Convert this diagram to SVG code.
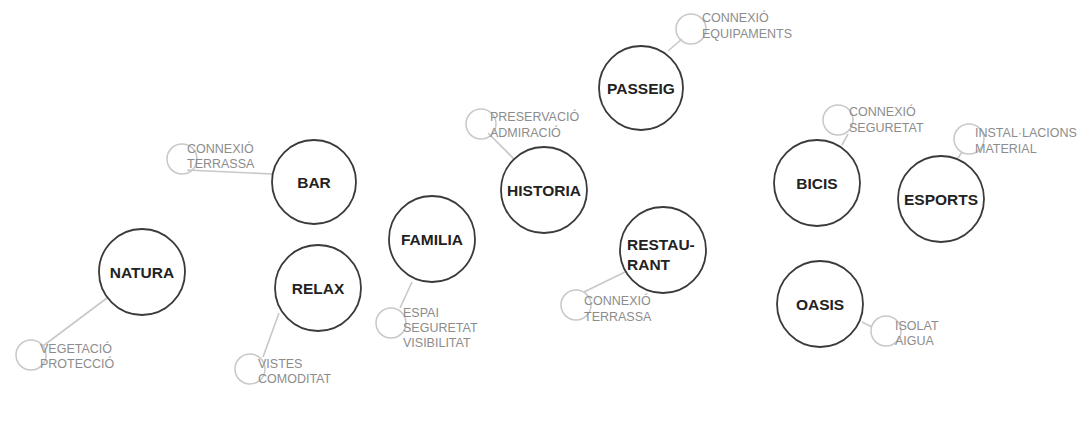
<svg xmlns="http://www.w3.org/2000/svg" width="1081" height="428" viewBox="0 0 1081 428">
<style>
.big{fill:#fff;stroke:#3a3a3a;stroke-width:1.8}
.sm{fill:none;stroke:#c8c8c8;stroke-width:1.5}
.lbl{font-family:"Liberation Sans",Arial,sans-serif;font-size:15.5px;font-weight:bold;fill:#222;text-anchor:middle}
.lbs{font-family:"Liberation Sans",Arial,sans-serif;font-size:15.5px;font-weight:bold;fill:#222}
.sub{font-family:"Liberation Sans",Arial,sans-serif;font-size:12.5px;fill:#8c8c8c}
.ln{stroke:#c8c8c8;stroke-width:1.6;fill:none}
</style>
<rect width="1081" height="428" fill="#fff"/>
<g id="connectors">
<line class="ln" x1="107" y1="298" x2="43" y2="346"/>
<line class="ln" x1="272" y1="174" x2="187" y2="170"/>
<line class="ln" x1="279" y1="313" x2="263" y2="357"/>
<line class="ln" x1="412" y1="282" x2="400" y2="308"/>
<line class="ln" x1="517" y1="162" x2="488" y2="133"/>
<line class="ln" x1="668" y1="51" x2="682" y2="39"/>
<line class="ln" x1="625" y1="272" x2="584" y2="292"/>
<line class="ln" x1="842" y1="145" x2="848" y2="134"/>
<line class="ln" x1="958" y1="158" x2="962" y2="152"/>
<line class="ln" x1="862" y1="322" x2="872" y2="327"/>
</g>
<g id="natura">
<circle class="sm" cx="31" cy="355" r="15"/>
<text class="sub" x="40" y="353">VEGETACIÓ</text>
<text class="sub" x="40" y="368">PROTECCIÓ</text>
<circle class="big" cx="142" cy="272" r="43"/>
<text class="lbl" x="142" y="278">NATURA</text>
</g>
<g id="bar">
<circle class="sm" cx="182" cy="159" r="15"/>
<text class="sub" x="187" y="153">CONNEXIÓ</text>
<text class="sub" x="187" y="168">TERRASSA</text>
<circle class="big" cx="314" cy="182" r="42"/>
<text class="lbl" x="314" y="188">BAR</text>
</g>
<g id="relax">
<circle class="sm" cx="250" cy="369" r="15"/>
<text class="sub" x="258" y="368">VISTES</text>
<text class="sub" x="258" y="383">COMODITAT</text>
<circle class="big" cx="318" cy="288" r="43"/>
<text class="lbl" x="318" y="294">RELAX</text>
</g>
<g id="familia">
<circle class="sm" cx="391" cy="323" r="15"/>
<text class="sub" x="403" y="317">ESPAI</text>
<text class="sub" x="403" y="332">SEGURETAT</text>
<text class="sub" x="403" y="347">VISIBILITAT</text>
<circle class="big" cx="432" cy="239" r="43"/>
<text class="lbl" x="432" y="245">FAMILIA</text>
</g>
<g id="historia">
<circle class="sm" cx="481" cy="124" r="15"/>
<text class="sub" x="490" y="121">PRESERVACIÓ</text>
<text class="sub" x="490" y="137">ADMIRACIÓ</text>
<circle class="big" cx="544" cy="190" r="43"/>
<text class="lbl" x="544" y="196">HISTORIA</text>
</g>
<g id="passeig">
<circle class="sm" cx="691" cy="29" r="15"/>
<text class="sub" x="702" y="22">CONNEXIÓ</text>
<text class="sub" x="702" y="38">EQUIPAMENTS</text>
<circle class="big" cx="641" cy="88" r="42"/>
<text class="lbl" x="641" y="94">PASSEIG</text>
</g>
<g id="restaurant">
<circle class="sm" cx="576" cy="305" r="15"/>
<text class="sub" x="584" y="305">CONNEXIÓ</text>
<text class="sub" x="584" y="321">TERRASSA</text>
<circle class="big" cx="663" cy="250" r="43"/>
<text class="lbs" x="627" y="250">RESTAU-</text>
<text class="lbs" x="627" y="270">RANT</text>
</g>
<g id="bicis">
<circle class="sm" cx="838" cy="120" r="15"/>
<text class="sub" x="849" y="116">CONNEXIÓ</text>
<text class="sub" x="849" y="132">SEGURETAT</text>
<circle class="big" cx="817" cy="183" r="43"/>
<text class="lbl" x="817" y="189">BICIS</text>
</g>
<g id="esports">
<circle class="sm" cx="969" cy="139" r="15"/>
<text class="sub" x="975" y="137">INSTAL·LACIONS</text>
<text class="sub" x="975" y="153">MATERIAL</text>
<circle class="big" cx="941" cy="199" r="43"/>
<text class="lbl" x="941" y="205">ESPORTS</text>
</g>
<g id="oasis">
<circle class="sm" cx="886" cy="331" r="15"/>
<text class="sub" x="895" y="330">ISOLAT</text>
<text class="sub" x="895" y="345">AIGUA</text>
<circle class="big" cx="820" cy="304" r="43"/>
<text class="lbl" x="820" y="310">OASIS</text>
</g>
</svg>
